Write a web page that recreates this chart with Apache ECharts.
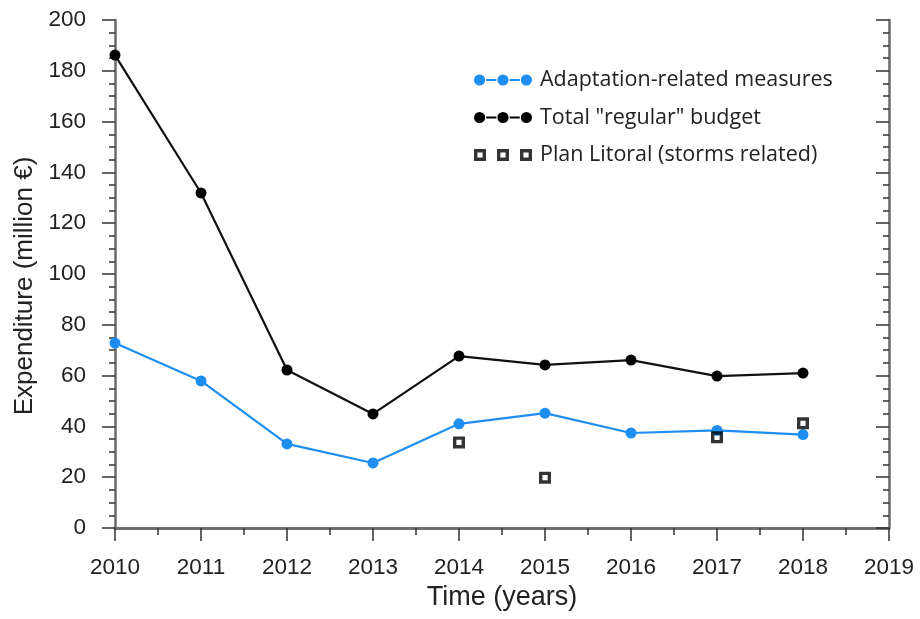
<!DOCTYPE html>
<html><head><meta charset="utf-8">
<script src="https://cdn.jsdelivr.net/npm/echarts@6/dist/echarts.min.js"></script>
<style>html,body{margin:0;padding:0;background:#fff}#c{width:920px;height:619px}</style>
</head><body><div id="c"></div>
<script>
const years = [2010, 2011, 2012, 2013, 2014, 2015, 2016, 2017, 2018];
const adaptation = [72.8, 57.9, 33.1, 25.6, 41.0, 45.2, 37.4, 38.4, 36.8];
const totalRegular = [186.2, 131.9, 62.2, 44.9, 67.7, 64.2, 66.1, 59.8, 61.0];
const planYears = [2014, 2015, 2017, 2018];
const planLitoral = [33.7, 19.8, 35.7, 41.2];
const xTicks = [2010, 2011, 2012, 2013, 2014, 2015, 2016, 2017, 2018, 2019];
const yTicks = [0, 20, 40, 60, 80, 100, 120, 140, 160, 180, 200];

const blue = '#1f8ef1';
const axisCol = '#6a6a6a';
const tickCol = '#333';
const FONT = "'Liberation Sans', Arial, sans-serif";
const dotsIcon = 'path://M0,6a5.5,5.5 0 1,0 11,0a5.5,5.5 0 1,0 -11,0zM12,5h10v2h-10zM23,6a5.5,5.5 0 1,0 11,0a5.5,5.5 0 1,0 -11,0zM35,5h10v2h-10zM46,6a5.5,5.5 0 1,0 11,0a5.5,5.5 0 1,0 -11,0z';
function frame(x) {
  const s = 12, t = 3.4;
  return 'M' + x + ',0h' + s + 'v' + t + 'h-' + s + 'z' +
         'M' + x + ',' + (s - t) + 'h' + s + 'v' + t + 'h-' + s + 'z' +
         'M' + x + ',0h' + t + 'v' + s + 'h-' + t + 'z' +
         'M' + (x + s - t) + ',0h' + t + 'v' + s + 'h-' + t + 'z';
}
const sqIcon = 'path://' + frame(0) + frame(23) + frame(46);
const sqSymbol = 'path://' + frame(0);

const pairs = (xs, ys) => xs.map((x, i) => [x, ys[i]]);

const chart = echarts.init(document.getElementById('c'), null, {renderer: 'canvas'});
const baseX = {
  type: 'value', min: xTicks[0], max: xTicks[xTicks.length - 1], interval: 1,
  axisLine: {show: true, lineStyle: {color: axisCol, width: 2.5}},
  splitLine: {show: false},
  minorTick: {show: true, splitNumber: 2, length: 7, lineStyle: {color: tickCol, width: 1.5}},
  axisTick: {show: true, length: 13, lineStyle: {color: tickCol, width: 1.5}}
};
const baseY = {
  type: 'value', min: yTicks[0], max: yTicks[yTicks.length - 1], interval: 20,
  axisLine: {show: true, lineStyle: {color: axisCol, width: 2.5}},
  splitLine: {show: false},
  minorTick: {show: true, splitNumber: 4, length: 6, lineStyle: {color: tickCol, width: 1.5}},
  axisTick: {show: true, length: 13, lineStyle: {color: tickCol, width: 1.5}}
};
chart.setOption({
  animation: false,
  backgroundColor: '#fff',
  grid: {left: 115, right: 31, top: 20, bottom: 91},
  legend: {
    orient: 'vertical', left: 469, top: 64, itemGap: 15.5,
    itemWidth: 58, itemHeight: 12,
    textStyle: {fontFamily: "'Open Sans', sans-serif", fontSize: 21.5, color: '#222', padding: [0, 0, 0, 3]},
    data: [
      {name: 'Adaptation-related measures', icon: dotsIcon, itemStyle: {color: blue}},
      {name: 'Total "regular" budget', icon: dotsIcon, itemStyle: {color: '#000'}},
      {name: 'Plan Litoral (storms related)', icon: sqIcon, itemStyle: {color: '#000'}}
    ]
  },
  xAxis: [
    Object.assign({}, baseX, {
      position: 'bottom',
      name: 'Time (years)', nameLocation: 'middle', nameGap: 56,
      nameTextStyle: {fontFamily: FONT, fontSize: 27, color: '#222'},
      axisLabel: {fontFamily: FONT, fontSize: 22.5, color: '#222', margin: 28, formatter: v => String(v)}
    }),
    Object.assign({}, baseX, {
      position: 'top', axisLabel: {show: false},
      axisTick: Object.assign({}, baseX.axisTick, {inside: true}),
      minorTick: Object.assign({}, baseX.minorTick)
    })
  ],
  yAxis: [
    Object.assign({}, baseY, {
      position: 'left',
      name: 'Expenditure (million €)', nameLocation: 'middle', nameGap: 76,
      nameTextStyle: {fontFamily: FONT, fontSize: 26, color: '#222', padding: [0, 24, 0, 0]},
      axisLabel: {fontFamily: FONT, fontSize: 22.5, color: '#222', margin: 29, formatter: v => String(v)}
    }),
    Object.assign({}, baseY, {
      position: 'right', axisLabel: {show: false},
      axisTick: Object.assign({}, baseY.axisTick, {inside: true})
    })
  ],
  series: [
    {
      name: 'Adaptation-related measures', type: 'line', data: pairs(years, adaptation),
      symbol: 'circle', symbolSize: 11, lineStyle: {color: blue, width: 2.2},
      itemStyle: {color: blue}, z: 3
    },
    {
      name: 'Total "regular" budget', type: 'line', data: pairs(years, totalRegular),
      symbol: 'circle', symbolSize: 11, lineStyle: {color: '#111', width: 2.2},
      itemStyle: {color: '#000'}, z: 3
    },
    {
      name: 'Plan Litoral (storms related)', type: 'scatter', data: pairs(planYears, planLitoral),
      symbol: sqSymbol, symbolSize: 12,
      itemStyle: {color: '#000'}, z: 4
    }
  ]
});
</script></body></html>
